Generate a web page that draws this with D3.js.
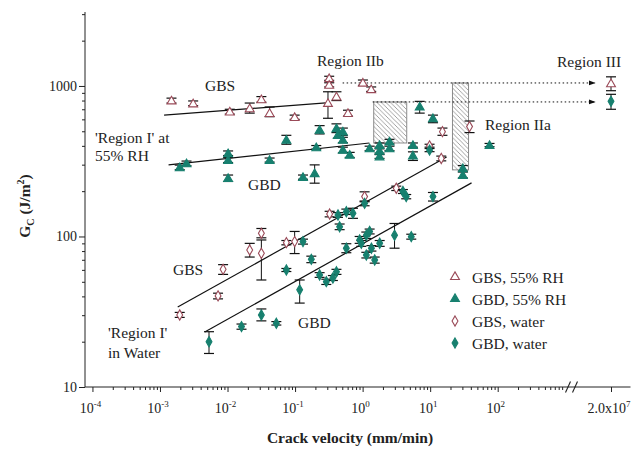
<!DOCTYPE html>
<html>
<head>
<meta charset="utf-8">
<script src="https://cdnjs.cloudflare.com/ajax/libs/d3/7.8.5/d3.min.js"></script>
<style>
  body { margin: 0; background: #fff; }
  text { font-family: "Liberation Serif", "Times New Roman", serif; fill: #222; }
</style>
</head>
<body>
<svg id="chart" width="644" height="452"></svg>
<script>
// Rows: [crack velocity (mm/min), Gc (J/m^2), error low, error high]
const gbsHumid = [
  [0.00148, 800, 770, 830], [0.0031, 765, 740, 795], [0.0108, 675, 650, 700],
  [0.0213, 710, 660, 770], [0.0317, 815, 780, 850], [0.042, 660, 625, 725],
  [0.0986, 620, 600, 640], [0.307, 770, 610, 915], [0.32, 1125, 1090, 1160],
  [0.32, 1016, 985, 1050], [0.41, 850, 800, 915], [0.607, 660, 630, 690],
  [1.01, 1050, 1010, 1095], [1.34, 950, 920, 985], [2e7, 1040, 930, 1150]
];
const gbdHumid = [
  [0.00196, 288, 278, 298], [0.00247, 306, 295, 317], [0.0102, 357, 345, 370],
  [0.0102, 322, 310, 335], [0.0102, 244, 232, 256], [0.042, 322, 312, 332],
  [0.0743, 438, 410, 470], [0.131, 248, 240, 256], [0.195, 263, 226, 299],
  [0.206, 391, 380, 402], [0.231, 511, 480, 545], [0.41, 523, 490, 560],
  [0.43, 472, 450, 495], [0.51, 497, 470, 525], [0.51, 438, 420, 456],
  [0.51, 376, 360, 392], [0.644, 348, 335, 362], [1.27, 385, 372, 398],
  [1.78, 405, 392, 418], [1.78, 370, 358, 382], [1.78, 340, 330, 350],
  [2.5, 427, 412, 442], [2.5, 385, 372, 398], [5.56, 405, 392, 418],
  [5.56, 345, 320, 365], [7.0, 729, 660, 790], [11, 610, 570, 640],
  [30.5, 284, 272, 296], [30.5, 256, 245, 268], [75.7, 405, 395, 415]
];
const gbsWater = [
  [0.00196, 30.1, 29, 31.3], [0.00724, 40.3, 38.5, 42], [0.0086, 60.5, 56, 65],
  [0.0213, 81.3, 73, 90], [0.0317, 105, 98, 113], [0.0317, 77.3, 51.4, 94.8],
  [0.0743, 91, 88, 94], [0.0986, 92.5, 77, 108], [0.325, 141, 135, 147],
  [1.07, 184, 170, 198], [3.15, 209, 202, 216], [9.8, 400, 392, 410],
  [14.6, 330, 318, 342], [15.2, 497, 470, 525], [38.3, 537, 490, 585]
];
const gbdWater = [
  [0.00532, 20.0, 16.7, 23.3], [0.0161, 25.2, 24.2, 26.2], [0.0317, 30.1, 27.5, 33],
  [0.0528, 26.5, 25.8, 27.2], [0.117, 44.2, 36.1, 51.4], [0.0743, 59.9, 58.5, 61.3],
  [0.131, 92.5, 89, 96], [0.174, 70.5, 67, 74], [0.231, 55.5, 53.5, 57.5],
  [0.29, 50.1, 48, 52], [0.363, 53, 51, 55], [0.41, 58.3, 56, 60.5],
  [0.432, 139, 134, 144], [0.574, 146, 140, 152], [0.72, 142.6, 132, 154],
  [0.457, 116, 111, 121], [0.574, 83.6, 78, 89.5], [0.904, 94.8, 90, 100],
  [1.135, 102, 97, 107], [1.27, 108, 104, 112], [0.957, 90.2, 86, 94],
  [1.135, 75.3, 72, 78.5], [1.35, 83.6, 80, 87], [1.51, 69.8, 66.5, 73],
  [1.79, 90.2, 86, 94], [2.97, 102, 83.6, 122], [5.25, 99.7, 96, 103.5],
  [11, 184, 172, 196], [3.95, 199, 193, 205], [4.42, 184, 178, 190],
  [9.8, 375, 366, 384], [1.07, 166, 160, 172], [2e7, 790, 700, 880]
];

// Power-law fits of 'Region I' (end points in data units)
const fitGbsHumid = [[0.00115, 640], [0.32, 775]];
const fitGbdHumid = [[0.00134, 299], [1.26, 418]];
const fitGbsWater = [[0.00183, 34], [17.5, 337]];
const fitGbdWater = [[0.0046, 23.2], [41, 227]];

// Transition bands: [v0, v1, Gc low, Gc high]
const transitionBands = [[1.46, 4.5, 418, 783], [21.4, 37, 277, 1047]];
// Dotted arrows toward Region III: [start velocity, Gc level]
const plateauArrows = [[0.506, 1047], [1.41, 783]];

const xMajorExponents = [-4, -3, -2, -1, 0, 1, 2];
const yMajorTicks = [10, 100, 1000];
const breakTick = 2e7;

const legendItems = [
  { label: "GBS, 55% RH", data: gbsHumid, shape: d3.symbolTriangle, filled: false },
  { label: "GBD, 55% RH", data: gbdHumid, shape: d3.symbolTriangle, filled: true },
  { label: "GBS, water", data: gbsWater, shape: d3.symbolDiamond, filled: false },
  { label: "GBD, water", data: gbdWater, shape: d3.symbolDiamond, filled: true }
];

const GBS_COLOR = "#9a4a58";
const GBD_COLOR = "#17806f";

const svg = d3.select("#chart");

// Scales: log axis up to the break, then a short linear stretch for Region III
const xMain = d3.scaleLog().domain([7.76e-5, 1259]).range([85, 572]);
const xBreak = d3.scaleLinear().domain([1.6e7, 2.3e7]).range([585, 630.5]);
const xPos = v => v > 1e6 ? xBreak(v) : xMain(v);
const y = d3.scaleLog().domain([10, 3100]).range([387, 12]);

// Hatch pattern for the transition bands
const defs = svg.append("defs");
const pat = defs.append("pattern").attr("id", "hatch").attr("patternUnits", "userSpaceOnUse")
  .attr("width", 4.5).attr("height", 4.5);
pat.append("path").attr("d", "M-1,-1 L5.5,5.5 M-1,3.5 L1,5.5 M3.5,-1 L5.5,1")
  .attr("stroke", "#8a8a8a").attr("stroke-width", 0.8);
defs.append("marker").attr("id", "arrow").attr("viewBox", "0 0 10 10")
  .attr("refX", 9).attr("refY", 5).attr("markerWidth", 7).attr("markerHeight", 7)
  .attr("orient", "auto")
  .append("path").attr("d", "M0,1.5 L10,5 L0,8.5 Z").attr("fill", "#111");

// Transition bands
svg.append("g").selectAll("rect").data(transitionBands).join("rect")
  .attr("x", d => xMain(d[0])).attr("width", d => xMain(d[1]) - xMain(d[0]))
  .attr("y", d => y(d[3])).attr("height", d => y(d[2]) - y(d[3]))
  .attr("fill", "url(#hatch)").attr("stroke", "#8a8a8a").attr("stroke-width", 1);

// Dotted arrows
svg.append("g").selectAll("line").data(plateauArrows).join("line")
  .attr("x1", d => xMain(d[0])).attr("x2", xPos(breakTick) - 16)
  .attr("y1", d => y(d[1])).attr("y2", d => y(d[1]))
  .attr("stroke", "#111").attr("stroke-width", 1).attr("stroke-dasharray", "1.5,2.5")
  .attr("marker-end", "url(#arrow)");

// Fit lines
const line = d3.line().x(d => xMain(d[0])).y(d => y(d[1]));
svg.append("g").selectAll("path")
  .data([fitGbsHumid, fitGbdHumid, fitGbsWater, fitGbdWater]).join("path")
  .attr("d", line).attr("fill", "none").attr("stroke", "#111").attr("stroke-width", 1.2);

// Error bars and markers
const symbolPath = (shape) => d3.symbol().type(shape).size(shape === d3.symbolTriangle ? 34 : 30)();
legendItems.forEach(item => {
  const color = item.label.startsWith("GBS") ? GBS_COLOR : GBD_COLOR;
  const g = svg.append("g");
  const eb = g.selectAll("g.eb").data(item.data).join("g").attr("class", "eb");
  eb.append("line").attr("x1", d => xPos(d[0])).attr("x2", d => xPos(d[0]))
    .attr("y1", d => y(d[2])).attr("y2", d => y(d[3]))
    .attr("stroke", "#111").attr("stroke-width", 1);
  [2, 3].forEach(k => {
    eb.append("line").attr("x1", d => xPos(d[0]) - 5).attr("x2", d => xPos(d[0]) + 5)
      .attr("y1", d => y(d[k])).attr("y2", d => y(d[k]))
      .attr("stroke", "#111").attr("stroke-width", 1.2);
  });
  g.selectAll("path").data(item.data).join("path")
    .attr("d", symbolPath(item.shape))
    .attr("transform", d => `translate(${xPos(d[0])},${y(d[1]) + (item.shape === d3.symbolTriangle ? 0.8 : 0)})`)
    .attr("fill", item.filled ? color : "#fff")
    .attr("stroke", color).attr("stroke-width", 1.1);
});

// Y axis
const yMinor = [];
[10, 100, 1000].forEach(b => d3.range(2, 10).forEach(m => { if (b * m <= 3100) yMinor.push(b * m); }));
const yAxisG = svg.append("g").attr("transform", "translate(85,0)");
yAxisG.call(d3.axisLeft(y).tickValues(yMajorTicks).tickSize(6).tickFormat(d3.format("d")));
yAxisG.append("g").call(d3.axisLeft(y).tickValues(yMinor).tickSize(3).tickFormat(""))
  .select(".domain").remove();
yAxisG.select(".domain").attr("d", `M0,${y(3100)}V${y(10)}`);
yAxisG.selectAll("line").attr("stroke", "#222");
yAxisG.selectAll("path").attr("stroke", "#222");
yAxisG.selectAll("text").attr("font-size", 14).attr("font-family", "Liberation Serif").attr("fill", "#222").attr("x", -8);

// X axis
const xMinor = [];
xMajorExponents.concat([3]).forEach(e => d3.range(2, 10).forEach(m => {
  const v = m * Math.pow(10, e);
  if (v < 1000) xMinor.push(v);
}));
const xAxisG = svg.append("g").attr("transform", "translate(0,387)");
xAxisG.append("line").attr("x1", xMain.range()[0]).attr("x2", xBreak(2.3e7))
  .attr("stroke", "#222").attr("stroke-width", 1);
const majorVals = xMajorExponents.map(e => Math.pow(10, e));
xAxisG.append("g").call(d3.axisBottom(xMain).tickValues(majorVals).tickSize(5).tickFormat(""))
  .select(".domain").remove();
xAxisG.append("g").call(d3.axisBottom(xMain).tickValues(xMinor).tickSize(3).tickFormat(""))
  .select(".domain").remove();
xAxisG.append("g").call(d3.axisBottom(xBreak).tickValues([breakTick]).tickSize(5).tickFormat(""))
  .select(".domain").remove();
xAxisG.selectAll("line").attr("stroke", "#222");

// Axis break marks
const bx = xMain.range()[1];
xAxisG.selectAll("line.brk").data([-4, 3]).join("line").attr("class", "brk")
  .attr("x1", d => bx + d - 2.5).attr("x2", d => bx + d + 2.5)
  .attr("y1", 5.5).attr("y2", -5.5).attr("stroke", "#222").attr("stroke-width", 1.1);

// X tick labels with superscript exponents
const xl = svg.append("g");
xMajorExponents.forEach(e => {
  const t = xl.append("text").attr("x", xMain(Math.pow(10, e)) - 2).attr("y", 413)
    .attr("text-anchor", "middle").attr("font-size", 14);
  t.append("tspan").text("10");
  t.append("tspan").attr("dy", -6).attr("font-size", 9).text(String(e).replace("-", "-"));
});
{
  const t = xl.append("text").attr("x", xBreak(breakTick) - 2).attr("y", 413)
    .attr("text-anchor", "middle").attr("font-size", 14);
  t.append("tspan").text("2.0x10");
  t.append("tspan").attr("dy", -6).attr("font-size", 9).text("7");
}

// Axis titles
svg.append("text").attr("x", 350).attr("y", 443).attr("text-anchor", "middle")
  .attr("font-size", 15.5).attr("font-weight", "bold").text("Crack velocity (mm/min)");
{
  const t = svg.append("text").attr("transform", "translate(30,206) rotate(-90)")
    .attr("text-anchor", "middle").attr("font-size", 15.5).attr("font-weight", "bold");
  t.append("tspan").text("G");
  t.append("tspan").attr("dy", 4).attr("font-size", 10).text("C");
  t.append("tspan").attr("dy", -4).text(" (J/m");
  t.append("tspan").attr("dy", -6).attr("font-size", 10).text("2");
  t.append("tspan").attr("dy", 6).text(")");
}

// Annotations
const notes = [
  ["GBS", 205, 91], ["'Region I' at", 95, 143], ["55% RH", 95, 161], ["GBD", 248, 190],
  ["Region IIb", 317, 66], ["Region IIa", 485, 130], ["Region III", 557, 67],
  ["GBS", 173, 275], ["'Region I'", 108, 338], ["in Water", 108, 358], ["GBD", 298, 328]
];
svg.append("g").selectAll("text").data(notes).join("text")
  .attr("x", d => d[1]).attr("y", d => d[2]).attr("font-size", 15.5).text(d => d[0]);

// Legend
const lg = svg.append("g").attr("transform", "translate(455,277)");
legendItems.forEach((item, i) => {
  const color = item.label.startsWith("GBS") ? GBS_COLOR : GBD_COLOR;
  lg.append("path").attr("d", symbolPath(item.shape))
    .attr("transform", `translate(0,${i * 22})`)
    .attr("fill", item.filled ? color : "#fff").attr("stroke", color).attr("stroke-width", 1.1);
  lg.append("text").attr("x", 17).attr("y", i * 22 + 5.5).attr("font-size", 15.5).text(item.label);
});
</script>
</body>
</html>
